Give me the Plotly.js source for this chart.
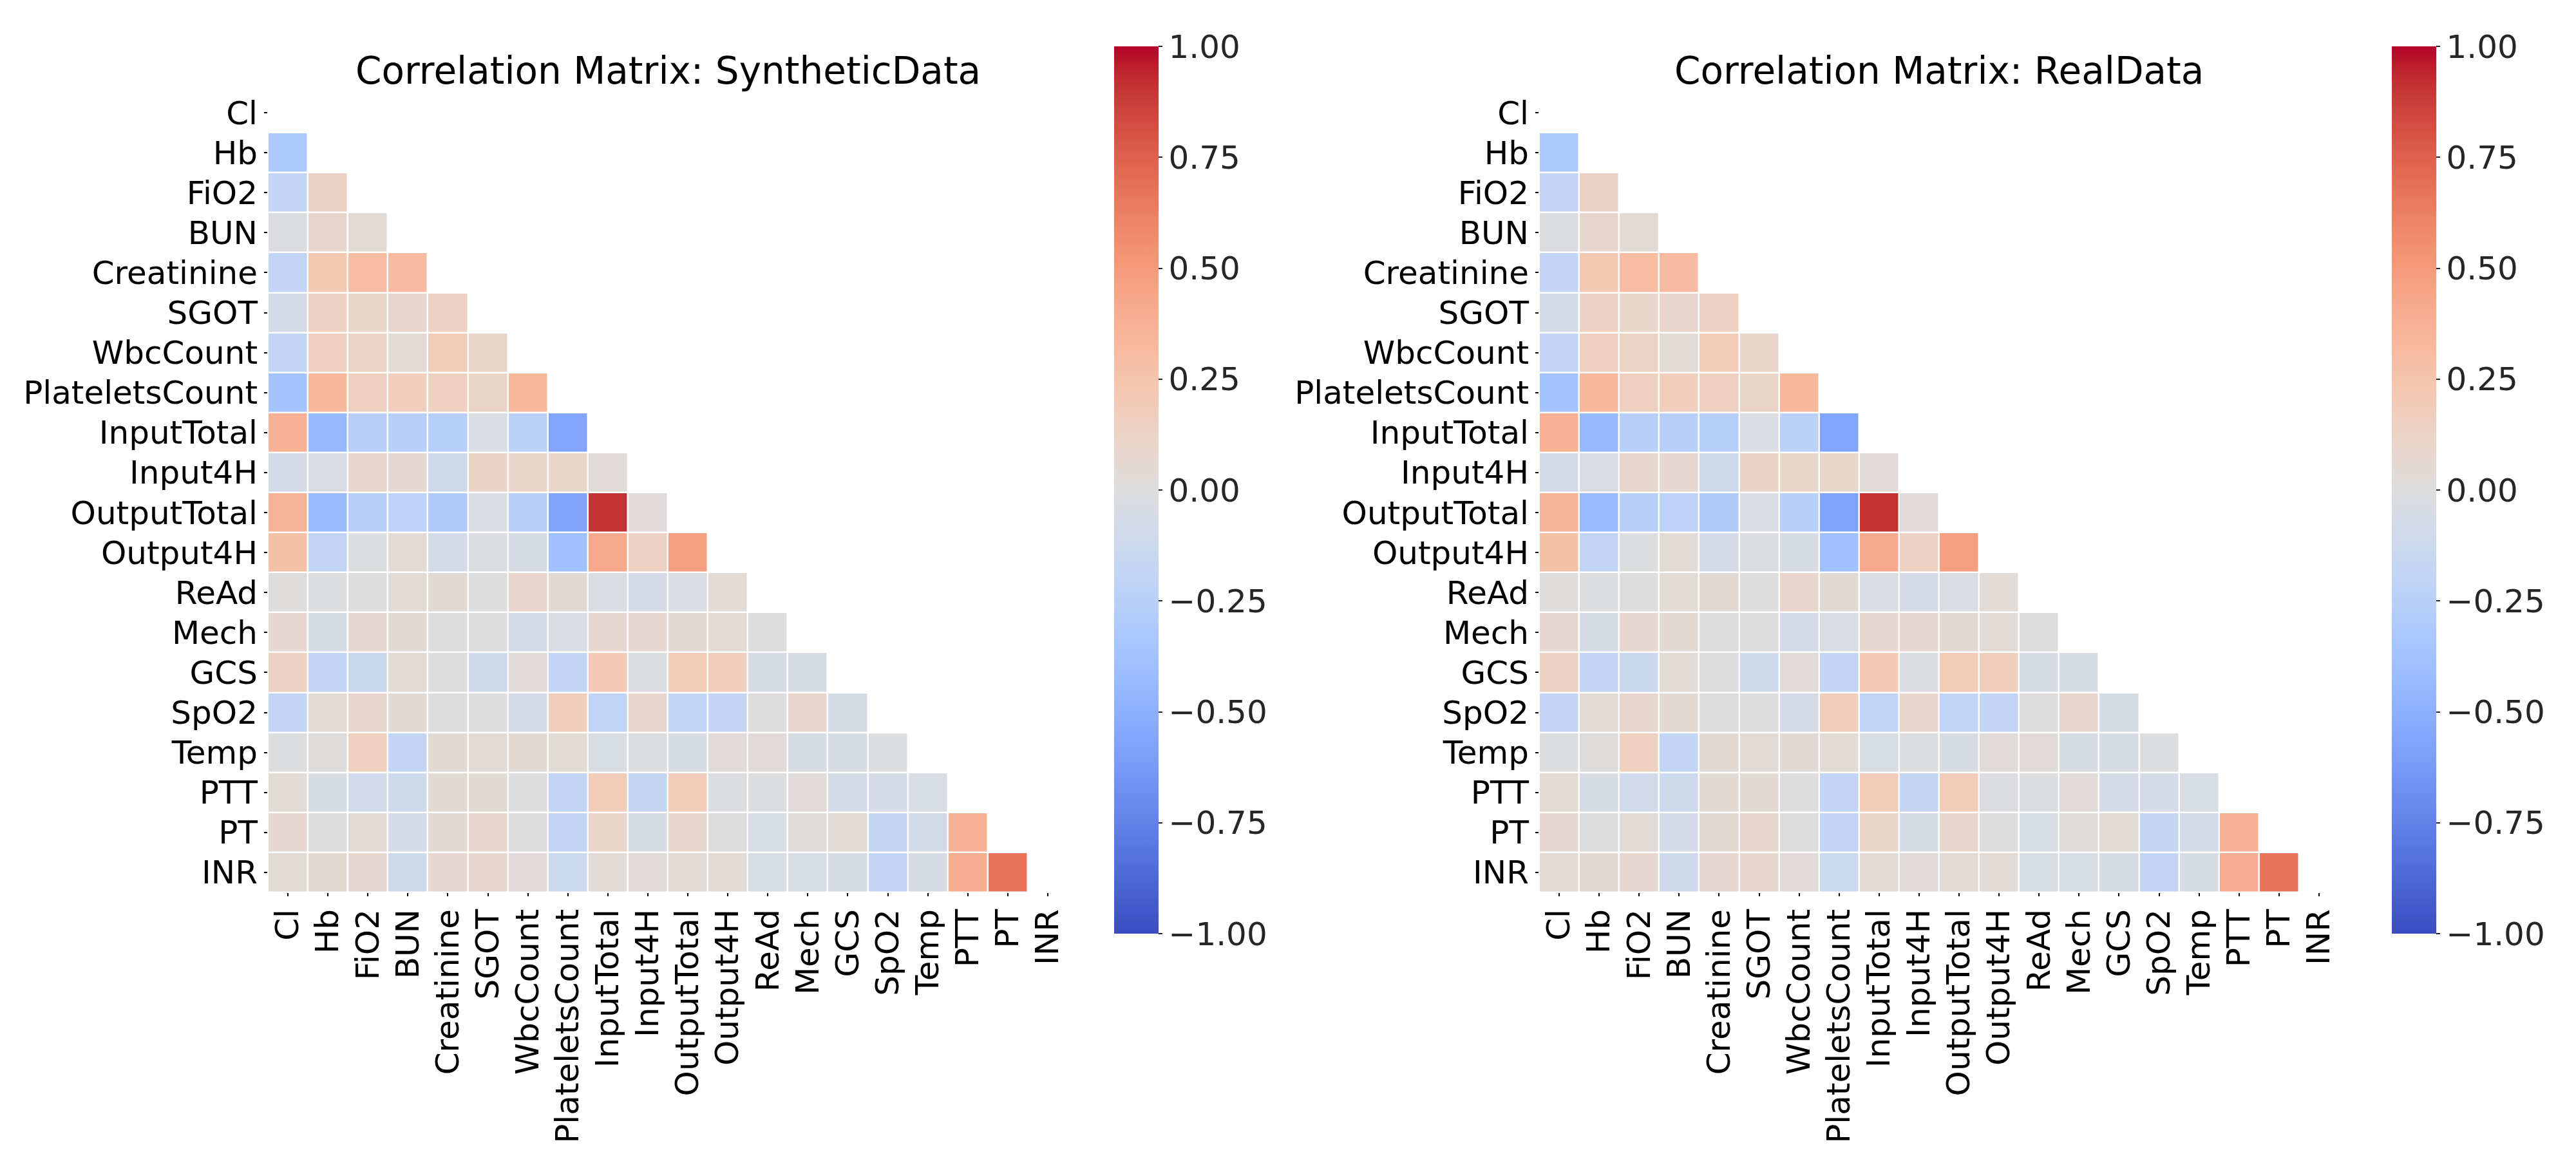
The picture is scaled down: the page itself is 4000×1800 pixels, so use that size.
<!DOCTYPE html>
<html>
<head>
<meta charset="utf-8">
<script src="https://cdn.plot.ly/plotly-3.0.1.min.js"></script>
<style>html,body{margin:0;padding:0;background:#fff}</style>
</head>
<body>
<div id="chart" style="width:4000px;height:1800px"></div>
<script>
// ---- data (lower triangle, row i has values for columns 0..i-1) ----
const variables = ["Cl","Hb","FiO2","BUN","Creatinine","SGOT","WbcCount","PlateletsCount",
  "InputTotal","Input4H","OutputTotal","Output4H","ReAd","Mech","GCS","SpO2","Temp","PTT","PT","INR"];

const synthRows = [
  [],
  [-0.31],
  [-0.18, 0.13],
  [-0.02, 0.09, 0.04],
  [-0.19, 0.22, 0.30, 0.31],
  [-0.06, 0.14, 0.10, 0.09, 0.14],
  [-0.19, 0.15, 0.12, 0.04, 0.19, 0.10],
  [-0.37, 0.34, 0.15, 0.17, 0.15, 0.11, 0.34],
  [0.37, -0.44, -0.25, -0.25, -0.26, -0.03, -0.23, -0.56],
  [-0.07, -0.03, 0.09, 0.06, -0.11, 0.13, 0.10, 0.10, 0.02],
  [0.36, -0.43, -0.25, -0.22, -0.30, -0.03, -0.25, -0.57, 0.91, 0.02],
  [0.28, -0.19, -0.01, 0.04, -0.07, -0.02, -0.05, -0.39, 0.42, 0.14, 0.47],
  [0.01, -0.005, 0.00, 0.04, 0.05, 0.00, 0.09, 0.05, -0.03, -0.06, -0.03, 0.04],
  [0.06, -0.05, 0.07, 0.05, 0.00, 0.00, -0.06, -0.03, 0.06, 0.07, 0.05, 0.04, 0.00],
  [0.14, -0.19, -0.14, 0.04, 0.00, -0.12, 0.02, -0.19, 0.20, -0.01, 0.19, 0.17, -0.05, -0.05],
  [-0.19, 0.04, 0.09, 0.05, 0.00, 0.00, -0.06, 0.17, -0.20, 0.09, -0.20, -0.19, 0.00, 0.09, -0.05],
  [-0.01, 0.01, 0.15, -0.19, 0.05, 0.03, 0.05, 0.04, -0.04, -0.01, -0.05, 0.02, 0.02, -0.05, -0.05, -0.005],
  [0.04, -0.05, -0.09, -0.12, 0.05, 0.05, 0.00, -0.19, 0.19, -0.17, 0.19, -0.02, -0.01, 0.02, -0.06, -0.07, -0.04],
  [0.06, 0.00, 0.03, -0.06, 0.05, 0.09, 0.00, -0.19, 0.10, -0.05, 0.09, 0.00, -0.04, 0.01, 0.03, -0.17, -0.08, 0.37],
  [0.04, 0.05, 0.06, -0.11, 0.07, 0.08, 0.02, -0.13, 0.04, 0.02, 0.04, 0.04, -0.04, -0.04, -0.05, -0.19, -0.05, 0.40, 0.67]
];

const realRows = [
  [],
  [-0.31],
  [-0.18, 0.13],
  [-0.02, 0.09, 0.04],
  [-0.19, 0.22, 0.30, 0.31],
  [-0.06, 0.14, 0.10, 0.09, 0.14],
  [-0.19, 0.15, 0.12, 0.04, 0.19, 0.10],
  [-0.37, 0.34, 0.15, 0.17, 0.15, 0.11, 0.34],
  [0.37, -0.44, -0.25, -0.25, -0.26, -0.03, -0.23, -0.56],
  [-0.07, -0.03, 0.09, 0.06, -0.11, 0.13, 0.10, 0.10, 0.02],
  [0.36, -0.43, -0.25, -0.22, -0.30, -0.03, -0.25, -0.57, 0.91, 0.02],
  [0.28, -0.19, -0.01, 0.04, -0.07, -0.02, -0.05, -0.39, 0.42, 0.14, 0.47],
  [0.01, -0.005, 0.00, 0.04, 0.05, 0.00, 0.09, 0.05, -0.03, -0.06, -0.03, 0.04],
  [0.06, -0.05, 0.07, 0.05, 0.00, 0.00, -0.06, -0.03, 0.06, 0.07, 0.05, 0.04, 0.00],
  [0.14, -0.19, -0.14, 0.04, 0.00, -0.12, 0.02, -0.19, 0.20, -0.01, 0.19, 0.17, -0.05, -0.05],
  [-0.19, 0.04, 0.09, 0.05, 0.00, 0.00, -0.06, 0.17, -0.20, 0.09, -0.20, -0.19, 0.00, 0.09, -0.05],
  [-0.01, 0.01, 0.15, -0.19, 0.05, 0.03, 0.05, 0.04, -0.04, -0.01, -0.05, 0.02, 0.02, -0.05, -0.05, -0.005],
  [0.04, -0.05, -0.09, -0.12, 0.05, 0.05, 0.00, -0.19, 0.19, -0.17, 0.19, -0.02, -0.01, 0.02, -0.06, -0.07, -0.04],
  [0.06, 0.00, 0.03, -0.06, 0.05, 0.09, 0.00, -0.19, 0.10, -0.05, 0.09, 0.00, -0.04, 0.01, 0.03, -0.17, -0.08, 0.37],
  [0.04, 0.05, 0.06, -0.11, 0.07, 0.08, 0.02, -0.13, 0.04, 0.02, 0.04, 0.04, -0.04, -0.04, -0.05, -0.19, -0.05, 0.40, 0.67]
];

const titles = ["Correlation Matrix: SyntheticData", "Correlation Matrix: RealData"];
const colorTickVals = [1, 0.75, 0.5, 0.25, 0, -0.25, -0.5, -0.75, -1];
const colorTickText = ["1.00", "0.75", "0.50", "0.25", "0.00", "\u22120.25", "\u22120.50", "\u22120.75", "\u22121.00"];

// coolwarm colormap (Moreland)
const coolwarmRGB = [
  [59,76,192],[68,90,204],[77,104,215],[87,117,225],[98,130,234],[108,142,241],[119,154,247],[130,165,251],
  [141,176,254],[152,185,255],[163,194,255],[174,201,253],[184,208,249],[194,213,244],[204,217,238],[213,219,230],
  [221,221,221],[229,216,209],[236,211,197],[241,204,185],[245,196,173],[247,187,160],[247,177,148],[247,166,135],
  [244,154,123],[241,141,111],[236,127,99],[229,112,88],[222,96,77],[213,80,66],[203,62,56],[192,40,47],[180,4,38]
];
const coolwarm = coolwarmRGB.map((c, i) => [i / (coolwarmRGB.length - 1), `rgb(${c[0]},${c[1]},${c[2]})`]);

function buildZ(rows) {
  return variables.map((v, i) => variables.map((w, j) => (j < i ? rows[i][j] : null)));
}

const FONT = "DejaVu Sans";
const TICK = 50;
const W = 4000, H = 1800;
// geometry (px in the 4000x1800 figure)
const hmTop = 144, hmBot = 1386;
const panels = [
  {left: 416, right: 1658, cbLeft: 1730},
  {left: 2390, right: 3632, cbLeft: 3714}
];
const cbTop = 72, cbBot = 1450;

function colorbar(p) {
  return {
    x: p.cbLeft / W, xanchor: "left", xpad: 0, ypad: 0,
    y: 1 - (cbTop + cbBot) / 2 / H, yanchor: "middle",
    len: (cbBot - cbTop) / H, lenmode: "fraction",
    thickness: 69, thicknessmode: "pixels",
    outlinewidth: 0,
    tickmode: "array", tickvals: colorTickVals, ticktext: colorTickText,
    ticks: "outside", ticklen: 6, tickwidth: 2, tickcolor: "#262626",
    tickfont: {family: FONT, size: TICK, color: "#262626"}
  };
}

const allRows = [synthRows, realRows];
const data = allRows.map((rows, k) => ({
  type: "heatmap",
  x: variables, y: variables, z: buildZ(rows),
  xaxis: k === 0 ? "x" : "x2", yaxis: k === 0 ? "y" : "y2",
  colorscale: coolwarm, zmin: -1, zmax: 1,
  xgap: 2.5, ygap: 2.5, hoverongaps: false,
  colorbar: colorbar(panels[k])
}));

const common = {
  type: "category", tickmode: "array", tickvals: variables, ticktext: variables,
  ticks: "outside", ticklen: 5, tickwidth: 2, tickcolor: "#000",
  tickfont: {family: FONT, size: TICK, color: "#000"},
  showgrid: false, zeroline: false, showline: false, automargin: false, fixedrange: true
};
function xax(p, anchor) {
  return Object.assign({}, common, {
    domain: [p.left / W, p.right / W], anchor: anchor,
    range: [-0.5, variables.length - 0.5], tickangle: -90
  });
}
function yax(anchor) {
  return Object.assign({}, common, {
    domain: [1 - hmBot / H, 1 - hmTop / H], anchor: anchor,
    range: [variables.length - 0.5, -0.5], tickangle: 0
  });
}

const layout = {
  width: W, height: H,
  margin: {l: 0, r: 0, t: 0, b: 0},
  paper_bgcolor: "#fff", plot_bgcolor: "#fff",
  font: {family: FONT, color: "#000"},
  showlegend: false,
  xaxis: xax(panels[0], "y"), yaxis: yax("x"),
  xaxis2: xax(panels[1], "y2"), yaxis2: yax("x2"),
  annotations: titles.map((t, k) => ({
    text: t, xref: "paper", yref: "paper",
    x: (panels[k].left + panels[k].right) / 2 / W, y: 1 - 110 / H,
    xanchor: "center", yanchor: "middle", showarrow: false,
    font: {family: FONT, size: 58, color: "#000"}
  }))
};

Plotly.newPlot("chart", data, layout, {displayModeBar: false, staticPlot: true});
</script>
</body>
</html>
